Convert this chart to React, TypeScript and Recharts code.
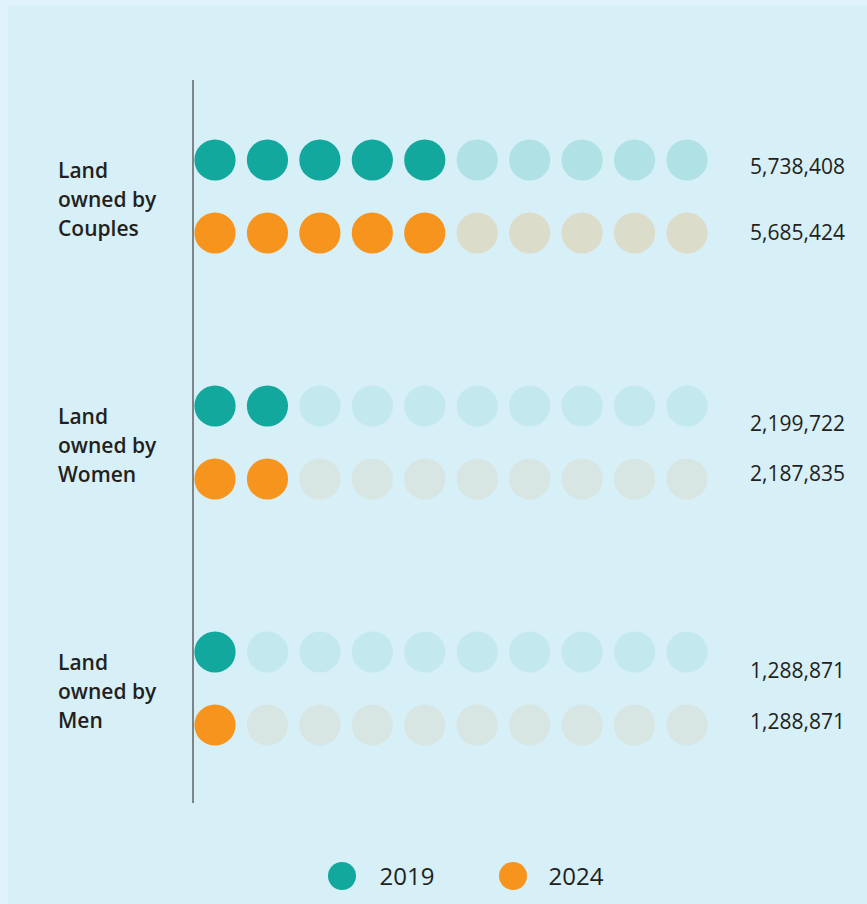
import React from "react";
import { ScatterChart, Scatter, XAxis, YAxis, Legend } from "recharts";

// ---- data ----
const categories = ["Couples", "Women", "Men"];
const categoryLabels = [
  ["Land", "owned by", "Couples"],
  ["Land", "owned by", "Women"],
  ["Land", "owned by", "Men"],
];
const years = ["2019", "2024"];
const values2019 = [5738408, 2199722, 1288871];
const values2024 = [5685424, 2187835, 1288871];
const filledDots2019 = [5, 2, 1];
const filledDots2024 = [5, 2, 1];
const DOTS_PER_ROW = 10;

// ---- layout / style constants ----
const W = 867;
const H = 904;
const GROUP_STEP = 3.37; // rows between category groups
const DOT_R = 20.6;
const FONT = "'Open Sans', 'Noto Sans', sans-serif";
const TEXT = "#231f20";
const FILLED = ["#12a89d", "#f7941e"];
const EMPTY_FIRST = ["#b0e1e4", "#dcdccb"];
const EMPTY_OTHER = ["#c3e8ee", "#d8e6e3"];
const LABEL_X = 58;
const VALUE_DX = 63;
const VALUE_DY = [
  [13.5, 7],
  [25, 2],
  [26, 4],
];

const seriesValues = [values2019, values2024];
const seriesFilled = [filledDots2019, filledDots2024];

const buildDots = (s: number) => {
  const out: any[] = [];
  categories.forEach((_c, g) => {
    for (let i = 0; i < DOTS_PER_ROW; i++) {
      out.push({ x: i, y: g * GROUP_STEP + s, group: g, series: s, filled: i < seriesFilled[s][g] });
    }
  });
  return out;
};
const buildValues = (s: number) =>
  categories.map((_c, g) => ({ x: DOTS_PER_ROW - 1, y: g * GROUP_STEP + s, group: g, series: s, value: seriesValues[s][g] }));

const dots2019 = buildDots(0);
const dots2024 = buildDots(1);
const valuePts2019 = buildValues(0);
const valuePts2024 = buildValues(1);

const DotShape = (props: any) => {
  const { cx, cy, payload } = props;
  if (cx == null || cy == null) return null;
  const s = payload.series;
  const fill = payload.filled ? FILLED[s] : payload.group === 0 ? EMPTY_FIRST[s] : EMPTY_OTHER[s];
  return <circle cx={cx} cy={cy} r={DOT_R} fill={fill} />;
};

const ValueShape = (props: any) => {
  const { cx, cy, payload } = props;
  if (cx == null || cy == null) return null;
  return (
    <text
      x={cx + VALUE_DX}
      y={cy + VALUE_DY[payload.group][payload.series]}
      fontSize={21}
      fontFamily={FONT}
      fill={TEXT}
      textAnchor="start"
    >
      {payload.value.toLocaleString("en-US")}
    </text>
  );
};

const CategoryTick = (props: any) => {
  const { y, payload, index } = props;
  const g = Math.round((payload.value - 0.5) / GROUP_STEP);
  const lines = categoryLabels[g] || categoryLabels[index] || [];
  return (
    <text x={LABEL_X} y={y} fontSize={21} fontWeight={600} fontFamily={FONT} fill={TEXT} textAnchor="start">
      {lines.map((l, i) => (
        <tspan key={i} x={LABEL_X} y={y + 10.5 + (i - 1) * 29}>
          {l}
        </tspan>
      ))}
    </text>
  );
};

const LegendContent = () => (
  <div
    style={{
      height: 101,
      width: W,
      display: "flex",
      alignItems: "flex-start",
      justifyContent: "center",
      paddingLeft: 64,
      boxSizing: "border-box",
      fontFamily: FONT,
    }}
  >
    {years.map((yr, i) => (
      <div key={yr} style={{ display: "flex", alignItems: "center", marginTop: 59, marginRight: i === 0 ? 64 : 0 }}>
        <svg width={28} height={28} style={{ display: "block" }}>
          <circle cx={14} cy={14} r={14} fill={FILLED[i]} />
        </svg>
        <span style={{ marginLeft: i === 0 ? 24 : 22, fontSize: 24, color: TEXT, lineHeight: "28px" }}>{yr}</span>
      </div>
    ))}
  </div>
);

export default function App() {
  const yTicks = categories.map((_c, g) => g * GROUP_STEP + 0.5);
  return (
    <div style={{ position: "absolute", left: 0, top: 0, width: W, height: H, background: "#e0f3fa" }}>
      <div style={{ position: "absolute", left: 8, top: 5, width: W - 8, height: H - 5, background: "#d7eff6" }} />
      <div style={{ position: "absolute", left: 0, top: 0 }}>
        <ScatterChart width={W} height={H} margin={{ top: 80, right: 0, bottom: 0, left: 33 }}>
          <XAxis type="number" dataKey="x" domain={[0, DOTS_PER_ROW - 1]} hide padding={{ left: 22, right: 180 }} />
          <YAxis
            type="number"
            dataKey="y"
            width={160}
            reversed
            domain={[0, 2 * GROUP_STEP + 1]}
            padding={{ top: 80, bottom: 78 }}
            ticks={yTicks}
            interval={0}
            tickLine={false}
            axisLine={{ stroke: "#7d8588", strokeWidth: 2 }}
            tick={<CategoryTick />}
          />
          <Legend verticalAlign="bottom" wrapperStyle={{ left: 0, width: W }} content={<LegendContent />} />
          <Scatter name="2019" data={dots2019} shape={<DotShape />} isAnimationActive={false} />
          <Scatter name="2024" data={dots2024} shape={<DotShape />} isAnimationActive={false} />
          <Scatter name="v2019" data={valuePts2019} shape={<ValueShape />} isAnimationActive={false} legendType="none" />
          <Scatter name="v2024" data={valuePts2024} shape={<ValueShape />} isAnimationActive={false} legendType="none" />
        </ScatterChart>
      </div>
    </div>
  );
}
